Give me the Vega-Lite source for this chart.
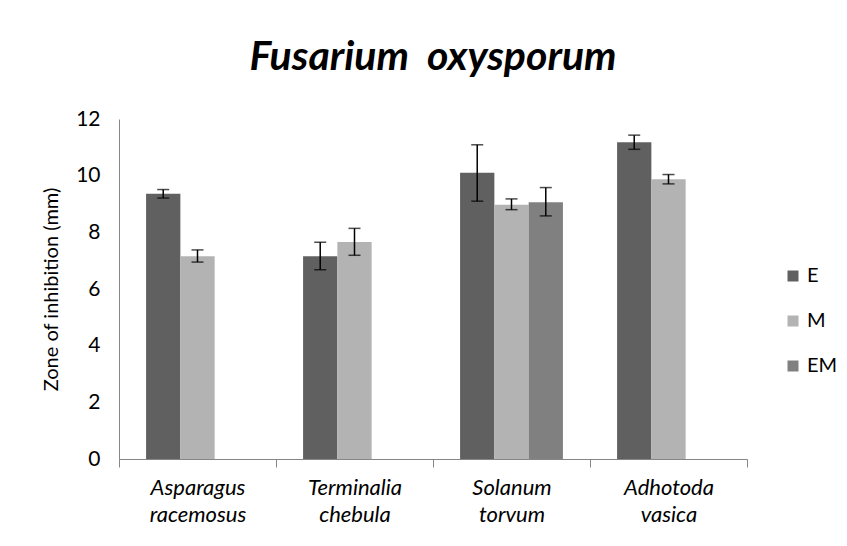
{
  "$schema": "https://vega.github.io/schema/vega-lite/v6.json",
  "width": 628,
  "height": 340,
  "autosize": {"type": "none"},
  "padding": {"left": 119, "top": 119, "right": 100, "bottom": 87},
  "background": "white",
  "title": {
    "text": "Fusarium\u00a0\u00a0oxysporum",
    "font": "Lato",
    "fontSize": 41,
    "fontWeight": "bold",
    "fontStyle": "italic",
    "color": "black",
    "anchor": "middle",
    "offset": 29
  },
  "data": {
    "values": [
      {"species": "Asparagus racemosus", "series": "E", "value": 9.36, "lo": 9.21, "hi": 9.51},
      {"species": "Asparagus racemosus", "series": "M", "value": 7.16, "lo": 6.95, "hi": 7.38},
      {"species": "Terminalia chebula", "series": "E", "value": 7.16, "lo": 6.68, "hi": 7.65},
      {"species": "Terminalia chebula", "series": "M", "value": 7.66, "lo": 7.19, "hi": 8.14},
      {"species": "Solanum torvum", "series": "E", "value": 10.1, "lo": 9.1, "hi": 11.09},
      {"species": "Solanum torvum", "series": "M", "value": 8.97, "lo": 8.8, "hi": 9.18},
      {"species": "Solanum torvum", "series": "EM", "value": 9.06, "lo": 8.58, "hi": 9.58},
      {"species": "Adhotoda vasica", "series": "E", "value": 11.18, "lo": 10.93, "hi": 11.43},
      {"species": "Adhotoda vasica", "series": "M", "value": 9.87, "lo": 9.71, "hi": 10.04}
    ]
  },
  "encoding": {
    "x": {
      "field": "species",
      "type": "nominal",
      "sort": ["Asparagus racemosus", "Terminalia chebula", "Solanum torvum", "Adhotoda vasica"],
      "scale": {"paddingInner": 0, "paddingOuter": 0},
      "axis": {
        "title": null,
        "labelExpr": "split(datum.label, ' ')",
        "labelAngle": 0,
        "labelFont": "Lato",
        "labelFontStyle": "italic",
        "labelFontSize": 22,
        "labelColor": "black",
        "labelLineHeight": 27,
        "labelPadding": 10,
        "labelBaseline": "top",
        "tickBand": "extent",
        "tickExtra": true,
        "tickSize": 8,
        "tickColor": "#868686",
        "domainColor": "#868686",
        "grid": false
      }
    },
    "xOffset": {
      "field": "series",
      "type": "nominal",
      "scale": {"domain": ["E", "M", "EM"], "paddingInner": 0, "paddingOuter": 0.79}
    }
  },
  "layer": [
    {
      "mark": {"type": "bar"},
      "encoding": {
        "y": {
          "field": "value",
          "type": "quantitative",
          "scale": {"domain": [0, 12], "nice": false},
          "axis": {
            "title": "Zone of inhibition (mm)",
            "titleFont": "Lato",
            "titleFontSize": 20,
            "titleFontWeight": "normal",
            "titleColor": "black",
            "titlePadding": 14,
            "values": [0, 2, 4, 6, 8, 10, 12],
            "labelFont": "Lato",
            "labelFontSize": 21,
            "labelColor": "black",
            "labelPadding": 19,
            "ticks": false,
            "grid": false,
            "domainColor": "#868686"
          }
        },
        "color": {
          "field": "series",
          "type": "nominal",
          "scale": {"domain": ["E", "M", "EM"], "range": ["#606060", "#b3b3b3", "#808080"]},
          "legend": {
            "title": null,
            "orient": "none",
            "legendX": 664,
            "legendY": 147,
            "padding": 0,
            "symbolType": "square",
            "symbolSize": 121,
            "symbolStrokeWidth": 0,
            "labelFont": "Lato",
            "labelFontSize": 20,
            "labelColor": "black",
            "labelOffset": 4,
            "rowPadding": 25
          }
        }
      }
    },
    {
      "mark": {"type": "rule", "color": "black", "strokeWidth": 1.5},
      "encoding": {
        "y": {"field": "lo", "type": "quantitative"},
        "y2": {"field": "hi"}
      }
    },
    {
      "mark": {"type": "tick", "color": "black", "size": 12, "thickness": 1.5},
      "encoding": {
        "y": {"field": "lo", "type": "quantitative"}
      }
    },
    {
      "mark": {"type": "tick", "color": "black", "size": 12, "thickness": 1.5},
      "encoding": {
        "y": {"field": "hi", "type": "quantitative"}
      }
    }
  ],
  "config": {
    "view": {"stroke": null}
  }
}
